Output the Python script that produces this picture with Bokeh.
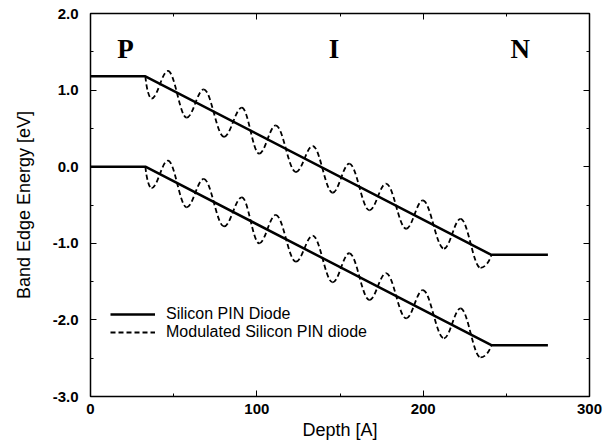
from bokeh.plotting import figure
from bokeh.models import (Range1d, LinearAxis, SingleIntervalTicker, NumeralTickFormatter,
                          Legend, LegendItem, CustomJSTickFormatter)
from bokeh.embed import file_html
from bokeh.resources import INLINE

# ---- data ----
band_x = [0, 33, 241, 275]
cb_y = [1.18, 1.18, -1.15, -1.15]          # conduction band edge (solid)
vb_y = [0.0, 0.0, -2.33, -2.33]            # valence band edge (solid)

# modulated curves: start, alternating extrema, end
mod_x = [33, 36.7, 46.6, 57.8, 68.1, 80.3, 91.0, 101.4, 111.4, 123.5, 133.6,
         145.6, 155.6, 167.7, 177.7, 189.8, 199.8, 212.5, 222.5, 234.5, 241]
mod_cb_y = [1.18, 0.89, 1.25, 0.64, 1.01, 0.39, 0.77, 0.17, 0.54, -0.07, 0.27,
            -0.34, 0.04, -0.57, -0.22, -0.81, -0.44, -1.07, -0.68, -1.32, -1.15]
mod_vb_y = [0.0, -0.28, 0.08, -0.53, -0.16, -0.78, -0.40, -1.00, -0.63, -1.24, -0.90,
            -1.51, -1.13, -1.74, -1.39, -1.98, -1.61, -2.24, -1.85, -2.49, -2.33]

region_labels = ["P", "I", "N"]
region_x = [21, 146.4, 258.4]
region_y = [1.54, 1.54, 1.54]

legend_labels = ["Silicon PIN Diode", "Modulated Silicon PIN diode"]

FONT = "Liberation Sans"

p = figure(width=608, height=447, output_backend="svg", toolbar_location=None,
           x_range=Range1d(0, 300), y_range=Range1d(-3, 2),
           x_axis_location=None, y_axis_location=None,
           min_border_left=90, min_border_right=19, min_border_top=13, min_border_bottom=51)
p.xgrid.visible = False
p.ygrid.visible = False
p.outline_line_color = "black"
p.outline_line_width = 1.5
p.background_fill_color = "white"
p.border_fill_color = "white"

xt = SingleIntervalTicker(interval=100, num_minor_ticks=2)
yt = SingleIntervalTicker(interval=1, num_minor_ticks=2)
blank = CustomJSTickFormatter(code="return ''")

xb = LinearAxis(ticker=xt, axis_label="Depth [A]")
yl = LinearAxis(ticker=yt, axis_label="Band Edge Energy [eV]",
                formatter=NumeralTickFormatter(format="0.0"))
xa = LinearAxis(ticker=xt, formatter=blank)
yr = LinearAxis(ticker=yt, formatter=blank)
p.add_layout(xb, "below")
p.add_layout(yl, "left")
p.add_layout(xa, "above")
p.add_layout(yr, "right")

for ax in (xb, yl, xa, yr):
    ax.axis_line_color = None
    ax.major_tick_in = 6
    ax.major_tick_out = 0
    ax.minor_tick_in = 3
    ax.minor_tick_out = 0
    ax.major_tick_line_color = "black"
    ax.minor_tick_line_color = "black"
    ax.major_label_text_font = FONT
    ax.axis_label_text_font = FONT
    ax.axis_label_text_font_style = "normal"
    ax.axis_label_text_color = "black"
    ax.major_label_text_color = "black"

for ax in (xa, yr):
    ax.major_label_standoff = 0

for ax in (xb, yl):
    ax.major_label_text_font_size = "15px"
    ax.major_label_text_font_style = "bold"
    ax.axis_label_text_font_size = "18px"
xb.major_label_standoff = 7
xb.axis_label_standoff = 3
yl.major_label_standoff = 12
yl.axis_label_standoff = 16

# solid band edges
r_solid = p.line(band_x, cb_y, line_color="black", line_width=2.5)
p.line(band_x, vb_y, line_color="black", line_width=2.5)

# modulated (dashed) curves as smooth bezier segments through read extrema
A = 0.364
def bez(xs, ys):
    x0, y0, x1, y1, cx0, cy0, cx1, cy1 = [], [], [], [], [], [], [], []
    n = len(xs) - 1
    for i in range(n):
        xa_, ya_, xb_, yb_ = xs[i], ys[i], xs[i + 1], ys[i + 1]
        dx = xb_ - xa_
        x0.append(xa_); y0.append(ya_); x1.append(xb_); y1.append(yb_)
        if i == 0:
            cx0.append(xa_ + 0.2 * dx); cy0.append(ya_ + 0.6 * (yb_ - ya_))
        else:
            cx0.append(xa_ + A * dx); cy0.append(ya_)
        if i == n - 1:
            cx1.append(xb_ - 0.2 * dx); cy1.append(yb_ - 0.6 * (yb_ - ya_))
        else:
            cx1.append(xb_ - A * dx); cy1.append(yb_)
    return dict(x0=x0, y0=y0, x1=x1, y1=y1, cx0=cx0, cy0=cy0, cx1=cx1, cy1=cy1)

r_dash = p.bezier(**bez(mod_x, mod_cb_y), line_color="black", line_width=1.8, line_dash="5 3")
p.bezier(**bez(mod_x, mod_vb_y), line_color="black", line_width=1.8, line_dash="5 3")

# region labels
p.text(x=region_x, y=region_y, text=region_labels, text_font="Liberation Serif",
       text_font_style="bold", text_font_size="27px", text_align="center",
       text_baseline="middle", text_color="black")

legend = Legend(items=[LegendItem(label=legend_labels[0], renderers=[r_solid]),
                       LegendItem(label=legend_labels[1], renderers=[r_dash])],
                location=(20, 55), border_line_color=None, background_fill_alpha=0,
                padding=0, margin=0, spacing=0, glyph_width=45, glyph_height=16,
                label_height=16, label_standoff=11, label_text_font=FONT,
                label_text_font_size="16px", label_text_color="black")
p.add_layout(legend, "center")

open("out.html", "w").write(file_html(p, INLINE))
